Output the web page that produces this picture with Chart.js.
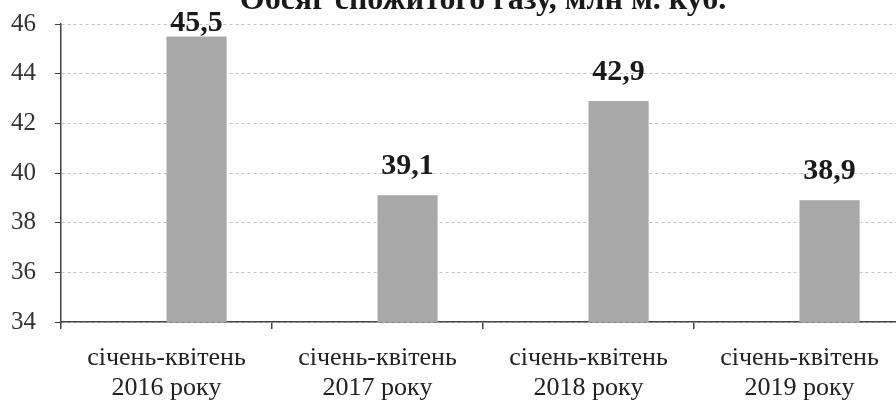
<!DOCTYPE html>
<html>
<head>
<meta charset="utf-8">
<script src="https://cdn.jsdelivr.net/npm/chart.js@4/dist/chart.umd.min.js"></script>
<style>
  html,body{margin:0;padding:0;background:#fff;overflow:hidden;width:896px;height:403px;}
  /* chart is shifted up a little: the title is cut off at the top of the picture */
  #wrap{position:absolute;left:0;top:-20px;width:912px;height:423px;}
</style>
</head>
<body>
<div id="wrap"><canvas id="mainChart"></canvas></div>
<script>
"use strict";
// дані графіка
const chartTitle="Обсяг спожитого газу, млн м. куб.";
const categories=[
  ["січень-квітень","2016 року"],
  ["січень-квітень","2017 року"],
  ["січень-квітень","2018 року"],
  ["січень-квітень","2019 року"]
];
const gasVolume=[45.5,39.1,42.9,38.9];
// порожня серія - у оригіналі стовпці зсунуті вправо від центру категорії
const emptySeries=[null,null,null,null];
const yMin=34, yMax=46, yStep=2;

const serif="'Liberation Serif','Times New Roman',serif";

// заголовок по центру області графіка (а не всього полотна)
const centeredTitle={
  id:"centeredTitle",
  afterDraw(chart){
    const ctx=chart.ctx;
    const area=chart.chartArea;
    ctx.save();
    ctx.font="bold 32px "+serif;
    ctx.fillStyle="#1a1a1a";
    ctx.textAlign="center";
    ctx.textBaseline="alphabetic";
    ctx.fillText(chartTitle,(area.left+area.right)/2,area.top-15);
    ctx.restore();
  }
};

// підписи значень над стовпцями (кома як десятковий роздільник)
const valueLabels={
  id:"valueLabels",
  afterDatasetsDraw(chart){
    const ctx=chart.ctx;
    const meta=chart.getDatasetMeta(1);
    ctx.save();
    ctx.font="bold 30px "+serif;
    ctx.fillStyle="#1a1a1a";
    ctx.textAlign="center";
    ctx.textBaseline="alphabetic";
    meta.data.forEach((bar,i)=>{
      const txt=gasVolume[i].toFixed(1).replace(".",",");
      const y=Math.max(bar.y-21,chart.chartArea.top+7);
      ctx.fillText(txt,bar.x,y);
    });
    ctx.restore();
  }
};

const data={
  labels:categories,
  datasets:[
    {label:"",data:emptySeries,backgroundColor:"rgba(0,0,0,0)"},
    {label:chartTitle,data:gasVolume,backgroundColor:"#a8a8a8",borderWidth:0}
  ]
};

const options={
  responsive:true,
  maintainAspectRatio:false,
  animation:false,
  layout:{padding:{left:0,right:7,top:44,bottom:0}},
  datasets:{bar:{categoryPercentage:0.57,barPercentage:1.0}},
  scales:{
    x:{
      afterFit(scale){scale.height=81;},
      grid:{display:true,drawOnChartArea:false,offset:true,tickLength:7,tickColor:"#444",lineWidth:1.5},
      border:{display:true,color:"#444",width:1.5},
      ticks:{color:"#222",padding:15,font:{family:serif,size:26,lineHeight:1.12},maxRotation:0,autoSkip:false}
    },
    y:{
      min:yMin,max:yMax,
      afterFit(scale){scale.width=61;},
      grid:{color:"#c4c4c4",tickColor:"#444",tickLength:6,lineWidth:1},
      // у v4 пунктир сітки задається через border.dash
      border:{display:true,color:"#444",width:1.5,dash:[3,3]},
      ticks:{stepSize:yStep,color:"#333",padding:19,font:{family:serif,size:25}}
    }
  },
  plugins:{
    legend:{display:false},
    tooltip:{enabled:false},
    title:{display:false}
  }
};

const mainChart=new Chart(document.getElementById("mainChart"),{
  type:"bar",
  data,
  options,
  plugins:[valueLabels,centeredTitle]
});
</script>
</body>
</html>
